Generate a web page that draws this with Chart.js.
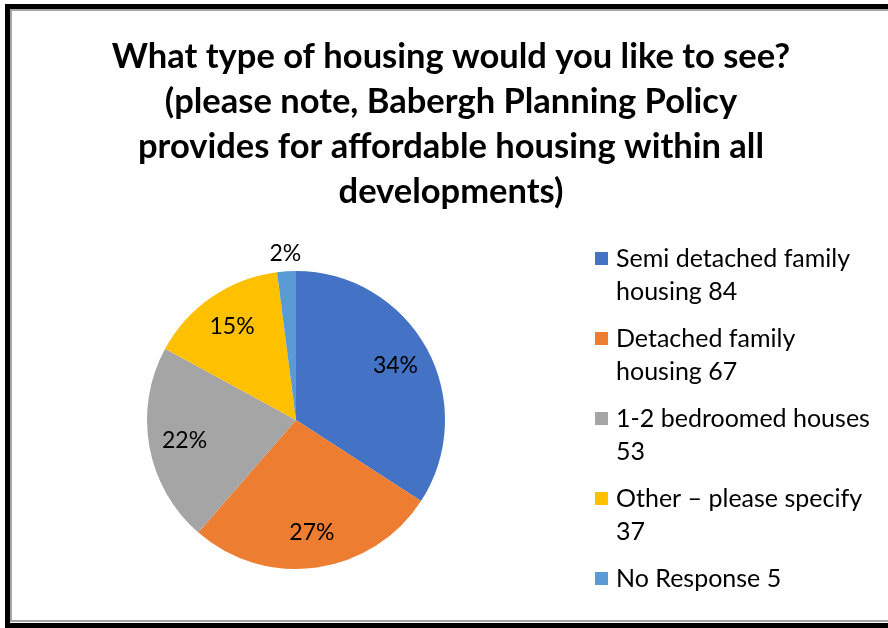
<!DOCTYPE html>
<html>
<head>
<meta charset="utf-8">
<script src="https://cdn.jsdelivr.net/npm/chart.js@4.4.1/dist/chart.umd.min.js"></script>
<style>
  html, body { margin: 0; padding: 0; background: #fff; }
  #wrap { position: relative; width: 888px; height: 628px; overflow: hidden; }
  #wrap canvas { position: absolute; left: 0; top: 0; }
  .frame-dark { position: absolute; left: 5px; top: 4px; width: 900px; height: 640px; border-top: 5px solid #000; border-left: 5px solid #000; box-sizing: border-box; }
  .frame-bottom { position: absolute; left: 5px; top: 623px; width: 900px; height: 5px; background: #000; }
  .frame-light { position: absolute; left: 10px; top: 9px; width: 900px; height: 613px; border-top: 2px solid #a6a6a6; border-left: 2px solid #a6a6a6; border-bottom: 2px solid #a6a6a6; box-sizing: border-box; }
</style>
</head>
<body>
<div id="wrap">
  <canvas id="housing-chart" width="888" height="628"></canvas>
  <div class="frame-dark"></div>
  <div class="frame-bottom"></div>
  <div class="frame-light"></div>
</div>
<script>
const titleLines = [
    'What type of housing would you like to see?',
    '(please note, Babergh Planning Policy',
    'provides for affordable housing within all',
    'developments)'
];
const categories = [
    'Semi detached family housing',
    'Detached family housing',
    '1-2 bedroomed houses',
    'Other \u2013 please specify',
    'No Response'
];
const responses = [84, 67, 53, 37, 5];
const sliceColors = ['#4472C4', '#ED7D31', '#A5A5A5', '#FFC000', '#5B9BD5'];

const total = responses.reduce((a, b) => a + b, 0);
const FONT = 'Lato, "Liberation Sans", sans-serif';

// word wrap for legend entries
function wrapText(ctx, text, maxWidth) {
    const words = text.split(' ');
    const lines = [];
    let line = '';
    words.forEach(w => {
        const test = line ? line + ' ' + w : w;
        if (line && ctx.measureText(test).width > maxWidth) {
            lines.push(line);
            line = w;
        } else {
            line = test;
        }
    });
    if (line) lines.push(line);
    return lines;
}

const titlePlugin = {
    id: 'titleLines',
    afterDraw(chart) {
        const ctx = chart.ctx;
        ctx.save();
        ctx.font = 'bold 34.5px ' + FONT;
        ctx.fillStyle = '#000';
        ctx.textAlign = 'center';
        ctx.textBaseline = 'middle';
        titleLines.forEach((t, i) => ctx.fillText(t, 451, 57 + i * 45));
        ctx.restore();
    }
};

const sliceLabels = {
    id: 'sliceLabels',
    afterDatasetsDraw(chart) {
        const ctx = chart.ctx;
        const meta = chart.getDatasetMeta(0);
        ctx.save();
        ctx.font = '23px ' + FONT;
        ctx.fillStyle = '#000';
        ctx.textAlign = 'center';
        ctx.textBaseline = 'middle';
        meta.data.forEach((arc, i) => {
            const pct = Math.round(responses[i] / total * 100);
            const mid = (arc.startAngle + arc.endAngle) / 2;
            const f = pct < 5 ? 1.12 : 0.76;
            const x = arc.x + Math.cos(mid) * arc.outerRadius * f;
            const y = arc.y + Math.sin(mid) * arc.outerRadius * f;
            ctx.fillText(pct + '%', x, y);
        });
        ctx.restore();
    }
};

const sideLegend = {
    id: 'sideLegend',
    afterDraw(chart) {
        const ctx = chart.ctx;
        ctx.save();
        ctx.font = '25px ' + FONT;
        ctx.textBaseline = 'middle';
        let y = 259;
        categories.forEach((c, i) => {
            const lines = wrapText(ctx, c + ' ' + responses[i], 262);
            ctx.fillStyle = sliceColors[i];
            ctx.fillRect(595, y - 7, 13, 13);
            ctx.fillStyle = '#000';
            lines.forEach((l, j) => ctx.fillText(l, 616, y + j * 33));
            y += 80;
        });
        ctx.restore();
    }
};

new Chart(document.getElementById('housing-chart'), {
    type: 'pie',
    data: {
        labels: categories,
        datasets: [{
            data: responses,
            backgroundColor: sliceColors,
            borderWidth: 0
        }]
    },
    options: {
        responsive: false,
        animation: false,
        layout: { padding: { left: 147, right: 443, top: 271, bottom: 59 } },
        plugins: {
            legend: { display: false },
            title: { display: false },
            tooltip: { enabled: false }
        }
    },
    plugins: [titlePlugin, sliceLabels, sideLegend]
});
</script>
</body>
</html>
